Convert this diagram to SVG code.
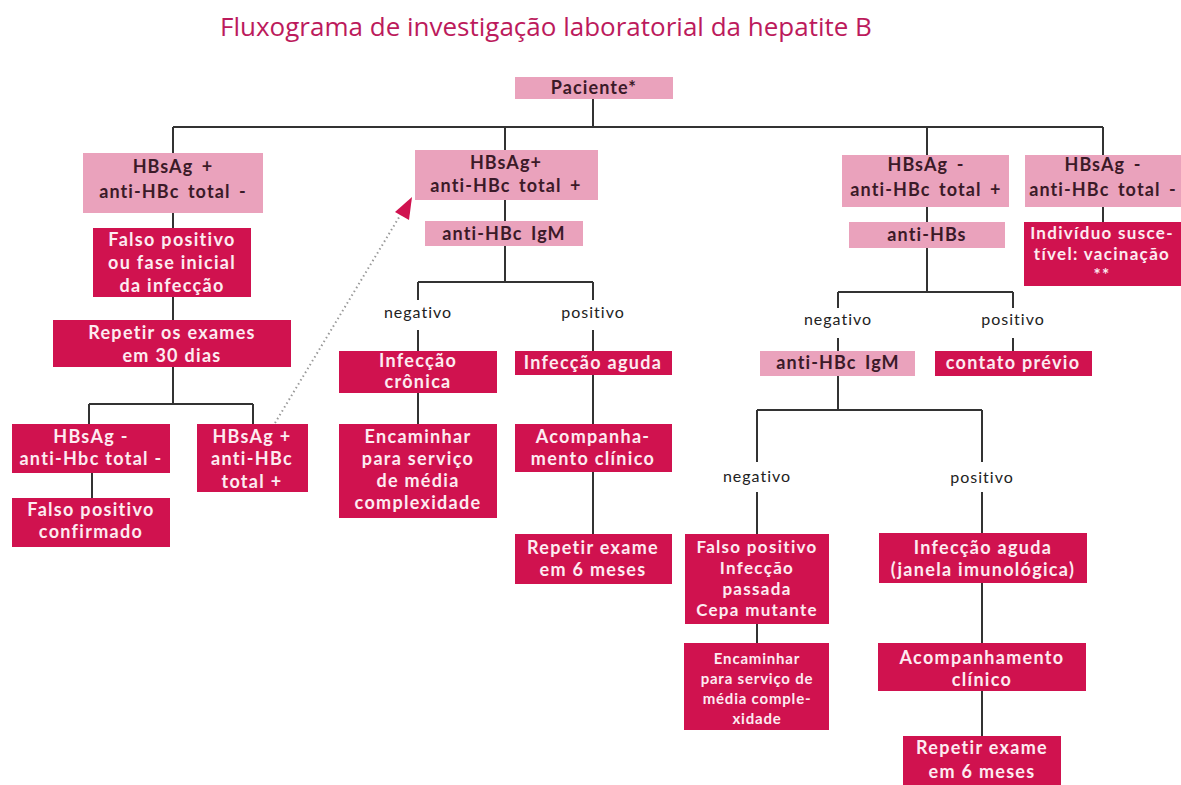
<svg xmlns="http://www.w3.org/2000/svg" width="1181" height="785" viewBox="0 0 1181 785">
<style>
.bg{fill:#ffffff}
.title{font-family:"Open Sans","Liberation Sans",sans-serif;font-size:26px;fill:#bc1a5c;text-anchor:middle}
.lp{fill:#eaa2bc}
.cr{fill:#d0124f}
.tl{font-family:Lato,"Open Sans",sans-serif;font-size:18px;font-weight:700;fill:#3b1a28;text-anchor:middle;letter-spacing:1.1px;word-spacing:3px}
.tc{font-family:Lato,"Open Sans",sans-serif;font-size:18px;font-weight:700;fill:#fdebf1;text-anchor:middle;letter-spacing:1.3px}
.sm{font-size:17px}
.xs{font-size:15px;letter-spacing:0.8px}
.lab{font-family:Lato,"Open Sans",sans-serif;font-size:16px;fill:#222;text-anchor:middle;letter-spacing:1px}
.ln{stroke:#333;stroke-width:2;fill:none}
.dot{stroke:#999;stroke-width:2;stroke-dasharray:1.5 3;fill:none}
.ah{fill:#d0124f}
</style>
<rect class="bg" x="0" y="0" width="1181" height="785"/>
<text class="title" x="546" y="36">Fluxograma de investigação laboratorial da hepatite B</text>

<g id="connectors">
<path class="ln" d="M593 99V127M173 127H1103M173 127V153M505 127V150M927 127V155M1103 127V155"/>
<path class="ln" d="M173 213V228M173 297V320M173 367V404M89 404H253M89 404V424M253 404V424M92 473V498"/>
<path class="ln" d="M505 200V221M505 246V282M418 282H593M418 282V300M418 330V351M593 282V300M593 330V351M418 393V424M593 375V424M593 472V534"/>
<path class="ln" d="M927 207V222M1103 207V222M927 248V292M838 292H1013M838 292V308M838 338V351M1013 292V308M1013 338V351"/>
<path class="ln" d="M838 376V410M757 410H982M757 410V462M757 492V534M982 410V462M982 492V533M757 624V643M982 583V643M982 691V736"/>
<path class="dot" d="M275 423L401 214"/>
<polygon class="ah" points="412,197 395,212 409,220"/>
</g>

<g id="paciente"><rect class="lp" x="515" y="77" width="158" height="22"/><text class="tl" x="594" y="94">Paciente*</text></g>

<g id="n1"><rect class="lp" x="83" y="153" width="180" height="60"/><text class="tl" x="173" y="173">HBsAg +</text><text class="tl" x="173" y="198">anti-HBc total -</text></g>
<g id="n2"><rect class="lp" x="415" y="150" width="183" height="50"/><text class="tl" x="506" y="169">HBsAg+</text><text class="tl" x="506" y="192">anti-HBc total +</text></g>
<g id="n3"><rect class="lp" x="842" y="155" width="167" height="52"/><text class="tl" x="926" y="171">HBsAg -</text><text class="tl" x="926" y="196">anti-HBc total +</text></g>
<g id="n4"><rect class="lp" x="1025" y="155" width="156" height="52"/><text class="tl" x="1103" y="171">HBsAg -</text><text class="tl" x="1103" y="196">anti-HBc total -</text></g>

<g id="n5"><rect class="cr" x="93" y="228" width="158" height="69"/><text class="tc" x="172" y="246">Falso positivo</text><text class="tc" x="172" y="269">ou fase inicial</text><text class="tc" x="172" y="292">da infecção</text></g>
<g id="n6"><rect class="cr" x="53" y="320" width="238" height="47"/><text class="tc" x="172" y="339">Repetir os exames</text><text class="tc" x="172" y="362">em 30 dias</text></g>
<g id="n7"><rect class="cr" x="12" y="424" width="158" height="49"/><text class="tc" x="91" y="443">HBsAg -</text><text class="tc" x="91" y="465">anti-Hbc total -</text></g>
<g id="n8"><rect class="cr" x="12" y="498" width="158" height="49"/><text class="tc" x="91" y="516">Falso positivo</text><text class="tc" x="91" y="538">confirmado</text></g>
<g id="n9"><rect class="cr" x="197" y="424" width="111" height="68"/><text class="tc" x="252" y="443">HBsAg +</text><text class="tc" x="252" y="465">anti-HBc</text><text class="tc" x="252" y="488">total +</text></g>

<g id="n10"><rect class="lp" x="425" y="221" width="158" height="25"/><text class="tl" x="504" y="240">anti-HBc IgM</text></g>
<text class="lab" x="418" y="318">negativo</text>
<text class="lab" x="593" y="318">positivo</text>
<g id="n11"><rect class="cr" x="339" y="351" width="158" height="42"/><text class="tc" x="418" y="367">Infecção</text><text class="tc" x="418" y="388">crônica</text></g>
<g id="n12"><rect class="cr" x="515" y="351" width="157" height="24"/><text class="tc" x="593" y="369">Infecção aguda</text></g>
<g id="n13"><rect class="cr" x="339" y="424" width="158" height="94"/><text class="tc" x="418" y="443">Encaminhar</text><text class="tc" x="418" y="465">para serviço</text><text class="tc" x="418" y="487">de média</text><text class="tc" x="418" y="509">complexidade</text></g>
<g id="n14"><rect class="cr" x="515" y="424" width="157" height="48"/><text class="tc" x="593" y="443">Acompanha-</text><text class="tc" x="593" y="465">mento clínico</text></g>
<g id="n15"><rect class="cr" x="515" y="534" width="157" height="50"/><text class="tc" x="593" y="554">Repetir exame</text><text class="tc" x="593" y="576">em 6 meses</text></g>

<g id="n16"><rect class="lp" x="849" y="222" width="156" height="26"/><text class="tl" x="927" y="241">anti-HBs</text></g>
<g id="n17"><rect class="cr" x="1024" y="222" width="157" height="64"/><text class="tc sm" x="1102" y="239">Indivíduo susce-</text><text class="tc sm" x="1102" y="260">tível: vacinação</text><text class="tc sm" x="1102" y="281">**</text></g>
<text class="lab" x="838" y="325">negativo</text>
<text class="lab" x="1013" y="325">positivo</text>
<g id="n18"><rect class="lp" x="760" y="351" width="155" height="25"/><text class="tl" x="838" y="369">anti-HBc IgM</text></g>
<g id="n19"><rect class="cr" x="935" y="351" width="157" height="25"/><text class="tc" x="1013" y="369">contato prévio</text></g>
<text class="lab" x="757" y="482">negativo</text>
<text class="lab" x="982" y="483">positivo</text>
<g id="n20"><rect class="cr" x="685" y="534" width="144" height="90"/><text class="tc sm" x="757" y="553">Falso positivo</text><text class="tc sm" x="757" y="574">Infecção</text><text class="tc sm" x="757" y="595">passada</text><text class="tc sm" x="757" y="616">Cepa mutante</text></g>
<g id="n21"><rect class="cr" x="684" y="643" width="145" height="87"/><text class="tc xs" x="757" y="664">Encaminhar</text><text class="tc xs" x="757" y="684">para serviço de</text><text class="tc xs" x="757" y="704">média comple-</text><text class="tc xs" x="757" y="724">xidade</text></g>
<g id="n22"><rect class="cr" x="879" y="533" width="208" height="50"/><text class="tc" x="983" y="554">Infecção aguda</text><text class="tc" x="983" y="576">(janela imunológica)</text></g>
<g id="n23"><rect class="cr" x="878" y="643" width="208" height="48"/><text class="tc" x="982" y="664">Acompanhamento</text><text class="tc" x="982" y="686">clínico</text></g>
<g id="n24"><rect class="cr" x="903" y="736" width="158" height="49"/><text class="tc" x="982" y="754">Repetir exame</text><text class="tc" x="982" y="778">em 6 meses</text></g>
</svg>
